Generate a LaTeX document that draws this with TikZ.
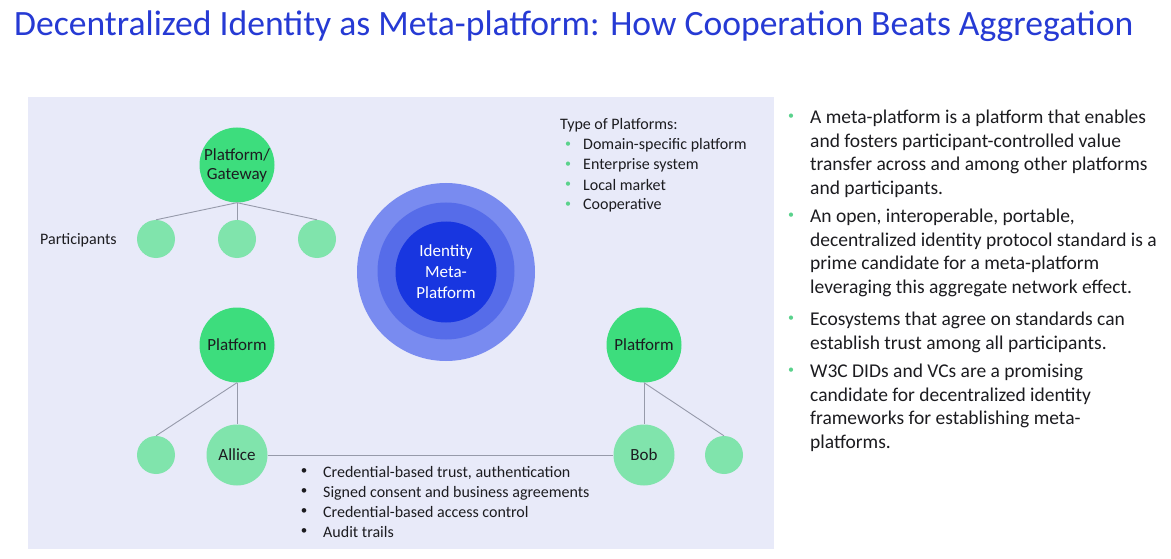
\documentclass[tikz,border=0pt]{standalone}
\usepackage{fontspec}
\setmainfont{Carlito}
\definecolor{titleblue}{RGB}{38,58,212}
\definecolor{panelbg}{RGB}{232,234,249}
\definecolor{platgreen}{RGB}{61,221,125}
\definecolor{partgreen}{RGB}{128,228,172}
\definecolor{linkgray}{RGB}{150,154,170}
\definecolor{ringouter}{RGB}{121,139,240}
\definecolor{ringmid}{RGB}{86,108,233}
\definecolor{ringinner}{RGB}{24,54,224}
\definecolor{bodytext}{RGB}{28,28,32}
\definecolor{dotgreen}{RGB}{90,210,140}
\tikzset{
  platform/.style={circle, fill=platgreen, minimum size=75pt, inner sep=0pt,
    align=center, font=\fontsize{17}{19}\selectfont, text=bodytext},
  person/.style={circle, fill=partgreen, minimum size=61pt, inner sep=0pt,
    font=\fontsize{17}{19}\selectfont, text=bodytext},
  member/.style={circle, fill=partgreen, minimum size=38pt, inner sep=0pt},
  link/.style={draw=linkgray, line width=0.9pt},
  ring/.style={circle, inner sep=0pt},
  plain/.style={inner sep=0pt, text=bodytext},
  item/.style={plain, anchor=north west, align=left,
    font=\fontsize{19.5}{23.6}\selectfont},
  gdot/.style={inner sep=0pt, text=dotgreen, font=\fontsize{12}{12}\selectfont},
  small/.style={plain, anchor=base west, font=\fontsize{16}{20}\selectfont},
}
\begin{document}
\begin{tikzpicture}[x=1pt,y=-1pt]
\useasboundingbox (0,0) rectangle (1171,559);
\fill[white] (0,0) rectangle (1171,559);
% diagram panel
\fill[panelbg] (28,97) rectangle (774,549);

% title
\node[anchor=base west, inner sep=0pt, text=titleblue,
  font=\fontsize{35.6}{38}\selectfont] (title) at (14,36)
  {Decentralized Identity as Meta-platform: How Cooperation Beats Aggregation};

% platform / gateway tree
\node[platform] (gw) at (237,165) {Platform/\\Gateway};
\node[member] (p1) at (156,239) {};
\node[member] (p2) at (237,239) {};
\node[member] (p3) at (317,239) {};
\draw[link] (gw.south) -- (p1.north);
\draw[link] (gw.south) -- (p2.north);
\draw[link] (gw.south) -- (p3.north);
\node[small] (partlabel) at (40,244) {Participants};

% identity meta-platform rings
\node[ring, fill=ringouter, minimum size=178pt] (outer) at (446,272) {};
\node[ring, fill=ringmid, minimum size=137pt] (mid) at (446,271) {};
\node[ring, fill=ringinner, minimum size=101pt, text=white, align=center,
  font=\fontsize{17}{21}\selectfont] (core) at (446,272) {Identity\\Meta-\\Platform};

% types of platforms
\node[small] (types) at (560,130) {Type of Platforms:};
\foreach \t [count=\i] in {{Domain-specific platform}, {Enterprise system}, {Local market}, {Cooperative}}{
  \node[gdot] (td\i) at (568,125+20*\i) {\textbullet};
  \node[small] (tt\i) at (583,130+20*\i) {\t};
}

% left platform with Allice
\node[platform] (lp) at (237,345) {Platform};
\node[person] (alice) at (237,455) {Allice};
\node[member] (la) at (156,455) {};
\draw[link] (lp.south) -- (alice.north);
\draw[link] (lp.south) -- (la.north);

% right platform with Bob
\node[platform] (rp) at (644,345) {Platform};
\node[person] (bob) at (644,455) {Bob};
\node[member] (rb) at (724,455) {};
\draw[link] (rp.south) -- (bob.north);
\draw[link] (rp.south) -- (rb.north);

% peer-to-peer link and what it carries
\draw[link] (alice.east) -- (bob.west);
\foreach \t [count=\i] in {{Credential-based trust, authentication},
  {Signed consent and business agreements}, {Credential-based access control}, {Audit trails}}{
  \node[plain, font=\fontsize{13}{13}\selectfont] (bd\i) at (304,452+20*\i) {\textbullet};
  \node[small] (bt\i) at (323,457+20*\i) {\t};
}

% explanatory bullets
\node[gdot] (r1) at (791,117) {\textbullet};
\node[item] (i1) at (810,110) {A meta-platform is a platform that enables\\
  and fosters participant-controlled value\\
  transfer across and among other platforms\\
  and participants.};
\node[gdot] (r2) at (791,216) {\textbullet};
\node[item] (i2) at (810,209) {An open, interoperable, portable,\\
  decentralized identity protocol standard is a\\
  prime candidate for a meta-platform\\
  leveraging this aggregate network effect.};
\node[gdot] (r3) at (791,319) {\textbullet};
\node[item] (i3) at (810,312) {Ecosystems that agree on standards can\\
  establish trust among all participants.};
\node[gdot] (r4) at (791,371) {\textbullet};
\node[item] (i4) at (810,364) {W3C DIDs and VCs are a promising\\
  candidate for decentralized identity\\
  frameworks for establishing meta-\\
  platforms.};
\end{tikzpicture}
\end{document}
